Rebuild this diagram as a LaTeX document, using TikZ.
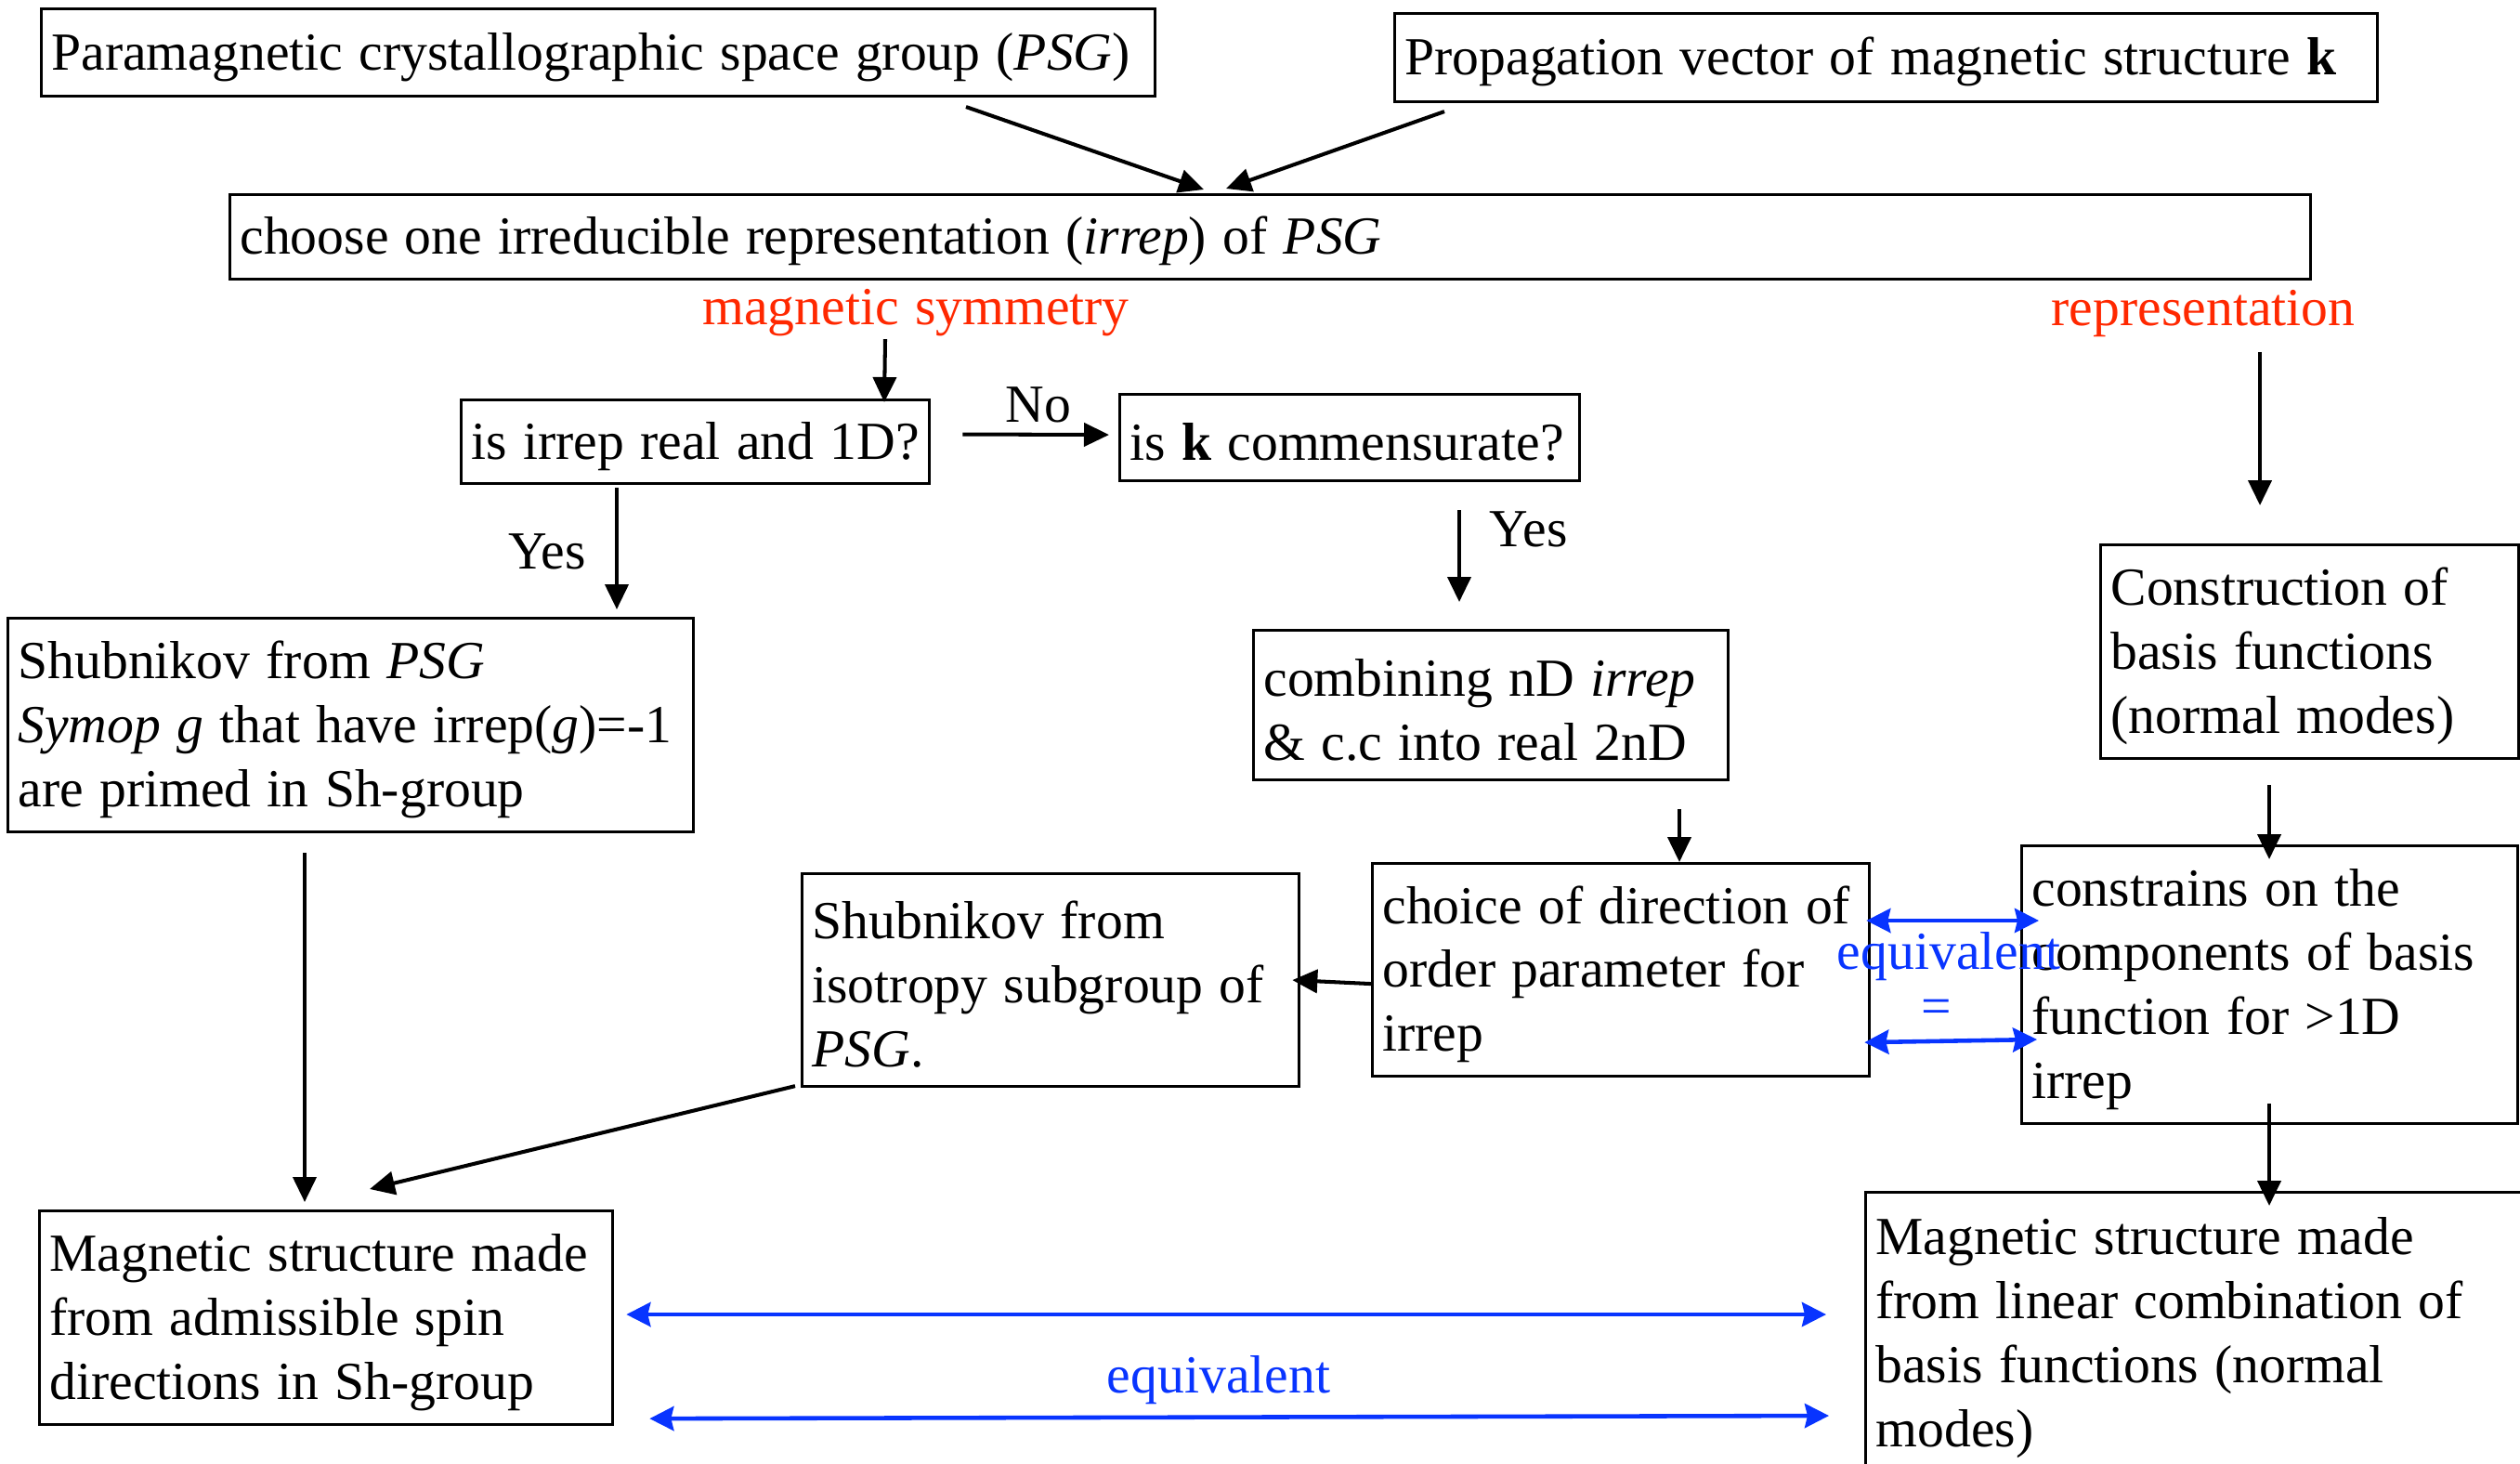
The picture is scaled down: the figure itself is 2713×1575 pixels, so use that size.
\documentclass[tikz,border=0pt]{standalone}
\usepackage{fontspec}
\setmainfont{Liberation Serif}
\usetikzlibrary{arrows.meta,calc}
\definecolor{symred}{RGB}{255,40,0}
\definecolor{eqblue}{RGB}{8,52,255}
% body type: Times-width serif, fixed word spacing
\newcommand\charttype{\fontsize{16.4}{19.6}\selectfont}

\begin{document}
\begin{tikzpicture}[x=0.01cm,y=-0.01cm,
  every node/.style={font=\charttype,
    execute at begin node={\spaceskip=0.30em\relax\xspaceskip=0.30em\relax}},
  box/.style={draw, line width=0.85pt, rectangle, anchor=north west,
    align=left, inner xsep=0.11cm, inner ysep=0pt, text height=0.5cm},
  tag/.style={inner sep=0pt, anchor=base},
  flowhead/.tip={Triangle[width=0.25cm,length=0.27cm]},
  eqhead/.tip={Stealth[width=0.26cm,length=0.26cm,inset=0.03cm]},
  flow/.style={line width=1.15pt, -flowhead},
  equiv/.style={draw=eqblue, line width=1.3pt, eqhead-eqhead},
]
\fill[white] (0,0) rectangle (2713,1575);
\path[use as bounding box] (0,0) rectangle (2713,1575);
\clip (0,0) rectangle (2713,1575);

% boxes
\node[box, text width=11.76cm, minimum height=0.94cm] (psg) at (43,8)
  {\mbox{Paramagnetic crystallographic space group (\textit{PSG})}};
\node[box, text width=10.35cm, minimum height=0.95cm] (prop) at (1500,13)
  {\mbox{Propagation vector of magnetic structure \textbf{k}}};
\node[box, text width=22.17cm, minimum height=0.91cm] (choose) at (246,208)
  {\mbox{choose one irreducible representation (\textit{irrep}) of \textit{PSG}}};
\node[box, text width=4.82cm, minimum height=0.90cm] (irreal) at (495,429)
  {\mbox{is irrep real and 1D?}};
\node[box, text width=4.73cm, minimum height=0.93cm] (kcomm) at (1204,423)
  {\mbox{is \textbf{k} commensurate?}};
\node[box, text width=4.89cm, minimum height=1.61cm] (comb) at (1348,677)
  {\mbox{combining nD \textit{irrep}}\\\mbox{\& c.c into real 2nD}};
\node[box, text width=5.13cm, minimum height=2.29cm] (choice) at (1476,928)
  {\mbox{choice of direction of}\\\mbox{order parameter for}\\\mbox{irrep}};
\node[box, text width=5.13cm, minimum height=2.29cm] (shubiso) at (862,939)
  {\mbox{Shubnikov from}\\\mbox{isotropy subgroup of}\\\mbox{\textit{PSG}.}};
\node[box, text width=7.16cm, minimum height=2.30cm] (shubpsg) at (7,664)
  {\mbox{Shubnikov from \textit{PSG}}\\\mbox{\textit{Symop g} that have irrep(\textit{g})=-1}\\\mbox{are primed in Sh-group}};
\node[box, text width=5.95cm, minimum height=2.30cm] (magl) at (41,1302)
  {\mbox{Magnetic structure made}\\\mbox{from admissible spin}\\\mbox{directions in Sh-group}};
\node[box, text width=4.28cm, minimum height=2.30cm] (constr) at (2260,585)
  {\mbox{Construction of}\\\mbox{basis functions}\\\mbox{(normal modes)}};
\node[box, text width=5.12cm, minimum height=2.99cm] (constrains) at (2175,909)
  {\mbox{constrains on the}\\\mbox{components of basis}\\\mbox{function for >1D}\\\mbox{irrep}};
\node[box, text width=7.50cm, inner ysep=0.17cm] (magr) at (2007,1282)
  {\mbox{Magnetic structure made}\\\mbox{from linear combination of}\\\mbox{basis functions (normal}\\\mbox{modes)}};

% labels
\node[tag, text=symred] (magsym) at (986,349) {magnetic symmetry};
\node[tag, text=symred] (repr) at (2372,350) {representation};
\node[tag] (yesa) at (589,612) {Yes};
\node[tag] (no) at (1118,454) {No};
\node[tag, anchor=base west] (yesb) at (1603,588) {Yes};
\node[tag, text=eqblue] (eqa) at (2098,1043) {equivalent};
\node[text=eqblue, inner sep=0pt] (eqsign) at (2085,1089) {=};
\node[tag, text=eqblue] (eqb) at (1312,1499) {equivalent};

% flow connectors
\draw[flow] ($(psg.south west)+(997,10)$) -- ($(choose.north west)+(1050,-4)$);
\draw[flow] ($(prop.south west)+(55,9)$) -- ($(choose.north west)+(1074,-5)$);
\draw[flow] ($(magsym.south)+(-33,3)$) -- ($(irreal.north west)+(457,4)$);
\draw[flow] ($(irreal.south west)+(169,3)$) -- ($(shubpsg.north west)+(657,-8)$);
\draw[flow] ($(irreal.east)+(34,-8)$) -- ($(kcomm.west)+(-10,-3)$);
\draw[flow] ($(kcomm.south west)+(367,30)$) -- ($(comb.north west)+(223,-29)$);
\draw[flow] ($(comb.south west)+(460,30)$) -- ($(choice.north west)+(332,0)$);
\draw[flow] ($(choice.west)+(0,15)$) -- ($(shubiso.east)+(-9,0)$);
\draw[flow] ($(shubiso.south west)+(-6,-2)$) -- ($(magl.north west)+(357,-22)$);
\draw[flow] ($(shubpsg.south west)+(321,21)$) -- ($(magl.north west)+(287,-8)$);
\draw[flow] ($(repr.south)+(61,16)$) -- ($(constr.north west)+(173,-41)$);
\draw[flow] ($(constr.south west)+(183,27)$) -- ($(constrains.north west)+(268,16)$);
\draw[flow] ($(constrains.south west)+(268,-23)$) -- ($(magr.north west)+(436,16)$);

% equivalence connectors
\draw[equiv] ($(choice.north east)+(-5,63)$) -- ($(constrains.north west)+(20,82)$);
\draw[equiv] ($(choice.south east)+(-7,-38)$) -- ($(constrains.north west)+(18,210)$);
\draw[equiv] ($(magl.north east)+(13,113)$) -- ($(magr.north west)+(-41,133)$);
\draw[equiv] ($(magl.south east)+(38,-8)$) -- ($(magr.north west)+(-38,242)$);
\end{tikzpicture}
\end{document}
